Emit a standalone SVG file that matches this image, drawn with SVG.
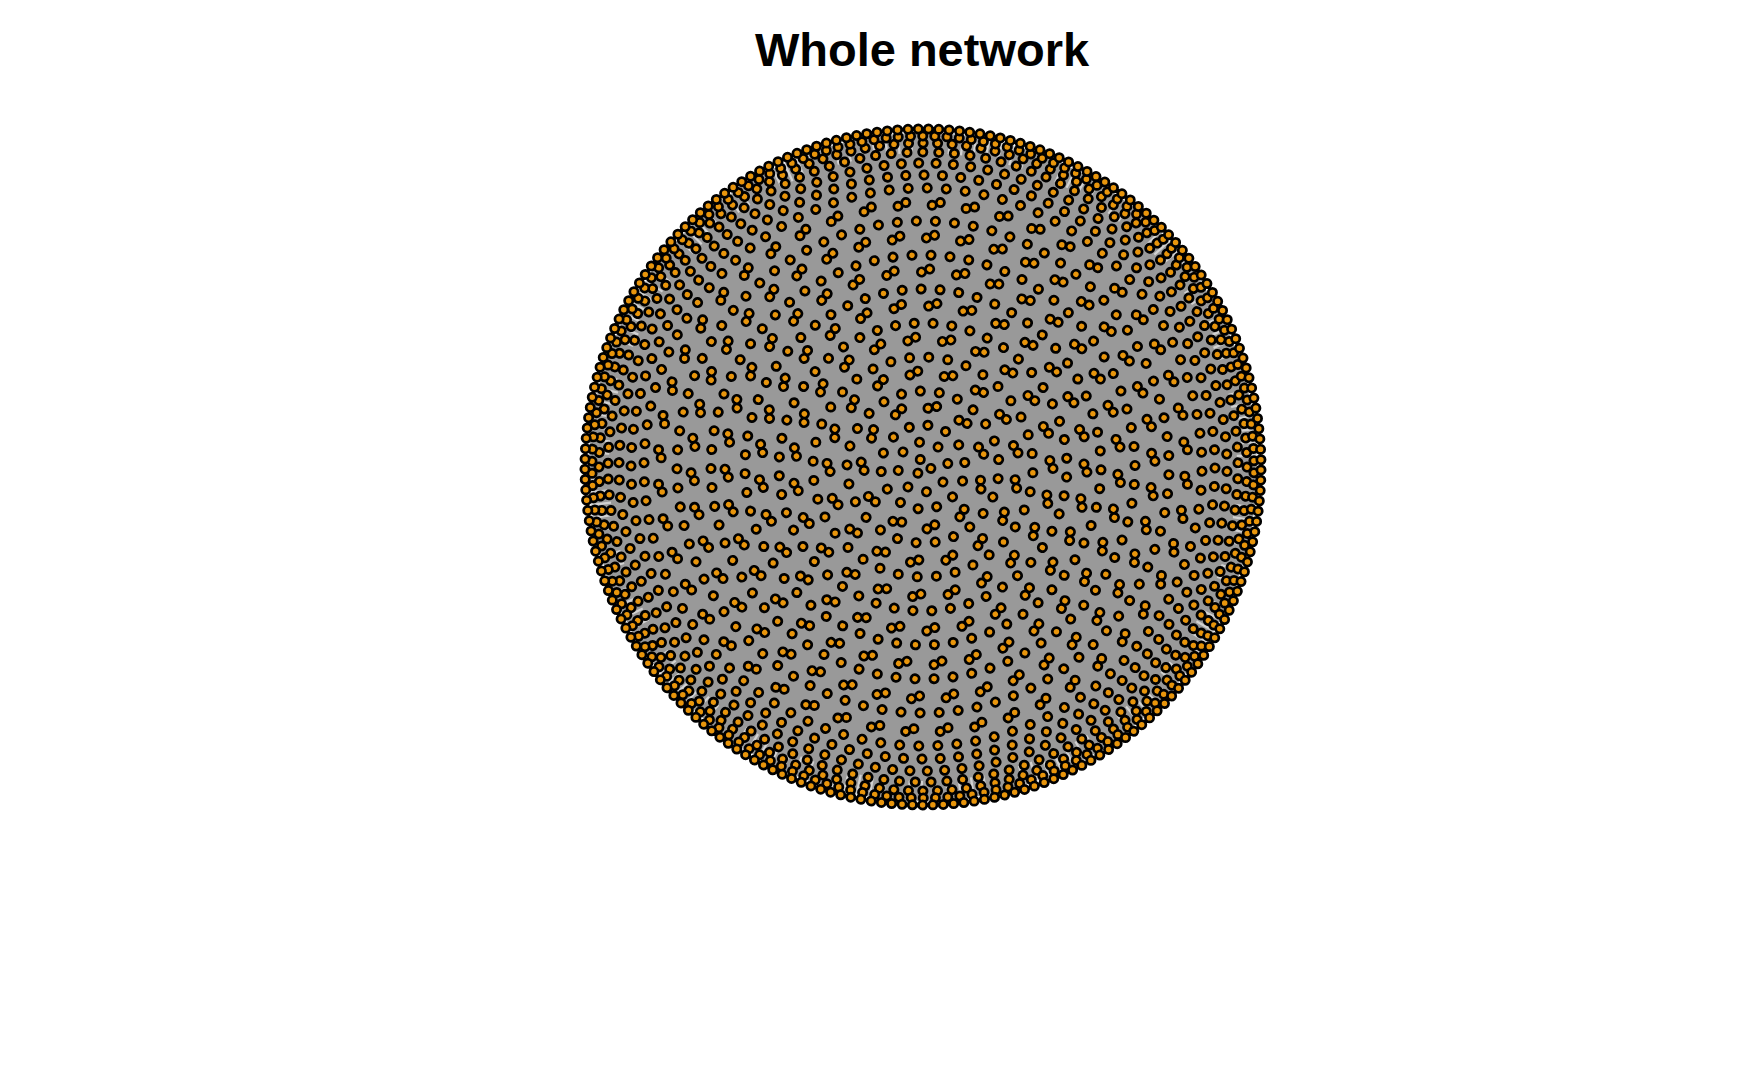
<svg xmlns="http://www.w3.org/2000/svg" width="1750" height="1081" viewBox="0 0 1750 1081">
<style>
.t{font-family:"Liberation Sans",Arial,sans-serif;font-weight:bold;font-size:47px;fill:#000}
.k{fill:none;stroke:#000;stroke-width:11;stroke-linecap:round;stroke-dasharray:0 1}
.o{fill:none;stroke:#E8950C;stroke-width:5.5;stroke-linecap:round;stroke-dasharray:0 1}
.e{fill:#999999}
.w{fill:none;stroke:#fff;stroke-width:22;stroke-dasharray:0.18 0.82;opacity:0.55}
</style>
<rect width="1750" height="1081" fill="#fff"/>
<text class="t" x="922" y="66" text-anchor="middle">Whole network</text>
<g id="edges">
<circle class="e" cx="923" cy="467" r="334"/>
<circle class="w" cx="923" cy="467" r="325" pathLength="160"/>
</g>
<g id="nodes" transform="translate(923 467)">
<g transform="rotate(10)"><circle class="k" r="8" pathLength="3"/><circle class="o" r="8" pathLength="3"/></g>
<g transform="rotate(37)"><circle class="k" r="25" pathLength="8"/><circle class="o" r="25" pathLength="8"/></g>
<g transform="rotate(71)"><circle class="k" r="42" pathLength="14"/><circle class="o" r="42" pathLength="14"/></g>
<g transform="rotate(13)"><circle class="k" r="59" pathLength="11"/><circle class="o" r="59" pathLength="11"/></g>
<g transform="rotate(20.8)"><circle class="k" r="62" pathLength="11"/><circle class="o" r="62" pathLength="11"/></g>
<g transform="rotate(52)"><circle class="k" r="76" pathLength="25"/><circle class="o" r="76" pathLength="25"/></g>
<g transform="rotate(29)"><circle class="k" r="93" pathLength="17"/><circle class="o" r="93" pathLength="17"/></g>
<g transform="rotate(33.9)"><circle class="k" r="96" pathLength="17"/><circle class="o" r="96" pathLength="17"/></g>
<g transform="rotate(3)"><circle class="k" r="110" pathLength="36"/><circle class="o" r="110" pathLength="36"/></g>
<g transform="rotate(44)"><circle class="k" r="127" pathLength="23"/><circle class="o" r="127" pathLength="23"/></g>
<g transform="rotate(47.6)"><circle class="k" r="130" pathLength="23"/><circle class="o" r="130" pathLength="23"/></g>
<g transform="rotate(19)"><circle class="k" r="144" pathLength="48"/><circle class="o" r="144" pathLength="48"/></g>
<g transform="rotate(61)"><circle class="k" r="161" pathLength="29"/><circle class="o" r="161" pathLength="29"/></g>
<g transform="rotate(63.85)"><circle class="k" r="164" pathLength="29"/><circle class="o" r="164" pathLength="29"/></g>
<g transform="rotate(7)"><circle class="k" r="178" pathLength="59"/><circle class="o" r="178" pathLength="59"/></g>
<g transform="rotate(33)"><circle class="k" r="195" pathLength="35"/><circle class="o" r="195" pathLength="35"/></g>
<g transform="rotate(35.35)"><circle class="k" r="198" pathLength="35"/><circle class="o" r="198" pathLength="35"/></g>
<g transform="rotate(15)"><circle class="k" r="212" pathLength="70"/><circle class="o" r="212" pathLength="70"/></g>
<g transform="rotate(48)"><circle class="k" r="229" pathLength="42"/><circle class="o" r="229" pathLength="42"/></g>
<g transform="rotate(50)"><circle class="k" r="232" pathLength="42"/><circle class="o" r="232" pathLength="42"/></g>
<g transform="rotate(24)"><circle class="k" r="246" pathLength="81"/><circle class="o" r="246" pathLength="81"/></g>
<g transform="rotate(2)"><circle class="k" r="262" pathLength="48"/><circle class="o" r="262" pathLength="48"/></g>
<g transform="rotate(3.75)"><circle class="k" r="265" pathLength="48"/><circle class="o" r="265" pathLength="48"/></g>
<g transform="rotate(40)"><circle class="k" r="279" pathLength="92"/><circle class="o" r="279" pathLength="92"/></g>
<g transform="rotate(11)"><circle class="k" r="292" pathLength="100"/><circle class="o" r="292" pathLength="100"/></g>
<g transform="rotate(27)"><circle class="k" r="304" pathLength="110"/><circle class="o" r="304" pathLength="110"/></g>
<g transform="rotate(5)"><circle class="k" r="315" pathLength="125"/><circle class="o" r="315" pathLength="125"/></g>
<g transform="rotate(18)"><circle class="k" r="324" pathLength="140"/><circle class="o" r="324" pathLength="140"/></g>
<g transform="rotate(1)"><circle class="k" r="331" pathLength="170"/><circle class="o" r="331" pathLength="170"/></g>
<g transform="rotate(0.5)"><circle class="k" r="338" pathLength="205"/><circle class="o" r="338" pathLength="205"/></g>
</g>
</svg>
